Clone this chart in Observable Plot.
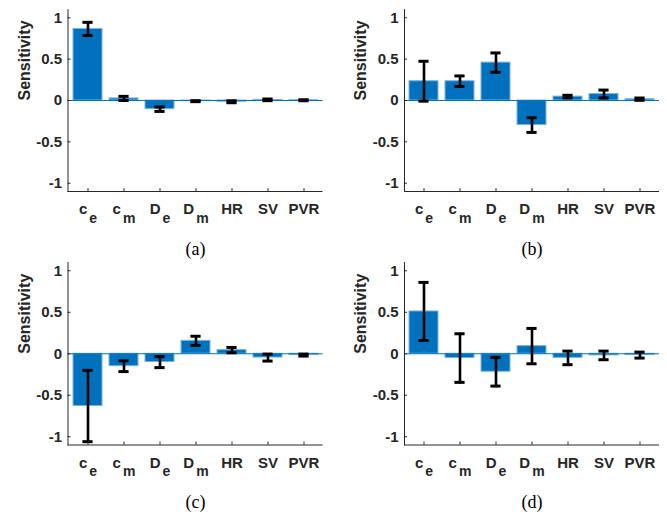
<!DOCTYPE html>
<html>
<head>
<meta charset="utf-8">
<script src="https://cdn.jsdelivr.net/npm/d3@7"></script>
<script src="https://cdn.jsdelivr.net/npm/@observablehq/plot@0.6"></script>
<style>
  body { margin: 0; background: #fff; }
  #chart { position: relative; width: 667px; height: 517px; background: #fff; overflow: hidden; }
  #chart svg { position: absolute; }
</style>
</head>
<body>
<div id="chart"></div>
<script>
// ---- data ----
const params = ["c_e", "c_m", "D_e", "D_m", "HR", "SV", "PVR"];

const meanA = [0.865, 0.025, -0.105, -0.008, -0.015, 0.008, 0.003];
const errA  = [0.080, 0.025, 0.027, 0.006, 0.012, 0.010, 0.006];

const meanB = [0.233, 0.233, 0.458, -0.297, 0.047, 0.078, 0.016];
const errB  = [0.241, 0.064, 0.117, 0.089, 0.016, 0.048, 0.014];

const meanC = [-0.630, -0.150, -0.100, 0.156, 0.044, -0.046, -0.016];
const errC  = [0.430, 0.065, 0.067, 0.055, 0.032, 0.042, 0.012];

const meanD = [0.510, -0.052, -0.217, 0.092, -0.050, -0.020, -0.016];
const errD  = [0.350, 0.293, 0.173, 0.213, 0.082, 0.052, 0.036];

const panelLabels = ["(a)", "(b)", "(c)", "(d)"];
const yTicks = [-1, -0.5, 0, 0.5, 1];
const yDomain = [-1.1, 1.1];
const yLabel = "Sensitivity";

// ---- layout ----
const layout = [
  {left: 0,   top: 0,   width: 333, height: 258, ml: 67.5, mr: 10.5, mt: 9, mb: 67},
  {left: 333, top: 0,   width: 334, height: 258, ml: 71,   mr: 8,    mt: 9, mb: 67},
  {left: 0,   top: 258, width: 333, height: 259, ml: 67.5, mr: 10.5, mt: 4, mb: 72.5},
  {left: 333, top: 258, width: 334, height: 259, ml: 71,   mr: 8,    mt: 4, mb: 72.5}
];
const series = [[meanA, errA], [meanB, errB], [meanC, errC], [meanD, errD]];

const axisColor = "#262626";
const barColor = "#0072BD";
const lineShape = {draw(ctx, l) { ctx.moveTo(0, 0); ctx.lineTo(0, -l); }};

function subscriptTicks(svg) {
  d3.select(svg).selectAll('g[aria-label^="x-axis"] text').each(function () {
    const t = this.textContent;
    const k = t.indexOf("_");
    if (k < 0) return;
    const sel = d3.select(this);
    sel.text(null);
    sel.append("tspan").text(t.slice(0, k));
    sel.append("tspan").attr("dx", 2).attr("dy", "0.62em").attr("font-size", 14).text(t.slice(k + 1));
  });
}

const chart = document.getElementById("chart");

layout.forEach((L, p) => {
  const [mean, err] = series[p];
  const rows = params.map((name, i) => ({name, mean: mean[i], lo: mean[i] - err[i], hi: mean[i] + err[i]}));
  const plotH = L.height - L.mt - L.mb;

  const svg = Plot.plot({
    width: L.width,
    height: L.height,
    marginLeft: L.ml,
    marginRight: L.mr,
    marginTop: L.mt,
    marginBottom: L.mb,
    style: {background: "transparent", fontFamily: "'Liberation Sans', Arial, sans-serif", overflow: "visible"},
    x: {type: "band", domain: params, paddingInner: 0.2, paddingOuter: 0.075, label: null},
    y: {domain: yDomain, label: null},
    marks: [
      Plot.barY(rows, {x: "name", y: "mean", fill: barColor, stroke: "#7fb2dd", strokeWidth: 1}),
      Plot.ruleY([0], {stroke: barColor, strokeWidth: 1.2}),
      Plot.ruleX(rows, {x: "name", y1: "lo", y2: "hi", stroke: "black", strokeWidth: 2.6}),
      Plot.tickY(rows, {x: "name", y: "lo", stroke: "black", strokeWidth: 3, insetLeft: 9.4, insetRight: 9.4}),
      Plot.tickY(rows, {x: "name", y: "hi", stroke: "black", strokeWidth: 3, insetLeft: 9.4, insetRight: 9.4}),
      // axis lines
      Plot.ruleY([yDomain[0]], {stroke: axisColor, strokeWidth: 1}),
      Plot.vector([0], {frameAnchor: "bottom-left", length: plotH, rotate: 0, anchor: "start", shape: lineShape, stroke: axisColor, strokeWidth: 1}),
      // inward ticks
      Plot.axisX({tickSize: 3, dy: -3, stroke: axisColor, fill: "none", label: null}),
      Plot.axisY({ticks: yTicks, tickSize: 3, dx: 3, stroke: axisColor, fill: "none", label: null}),
      // tick labels
      Plot.axisX({tickSize: 0, tickPadding: 12, fontSize: 15, fontWeight: "bold", fill: axisColor, label: null}),
      Plot.axisY({ticks: yTicks, tickSize: 0, tickPadding: 6, tickFormat: d => String(d), fontSize: 15, fontWeight: "bold", fill: axisColor, label: null}),
      // y label
      Plot.text([yLabel], {text: d => d, frameAnchor: "left", dx: -43.5, rotate: -90, fontSize: 16, fontWeight: "bold", fill: axisColor}),
      // panel label
      Plot.text([panelLabels[p]], {text: d => d, frameAnchor: "bottom", dy: 63, lineAnchor: "bottom", fontFamily: "'Liberation Serif', 'Times New Roman', serif", fontSize: 18, fill: "black"})
    ]
  });
  svg.style.left = L.left + "px";
  svg.style.top = L.top + "px";
  subscriptTicks(svg);
  chart.appendChild(svg);
});
</script>
</body>
</html>
